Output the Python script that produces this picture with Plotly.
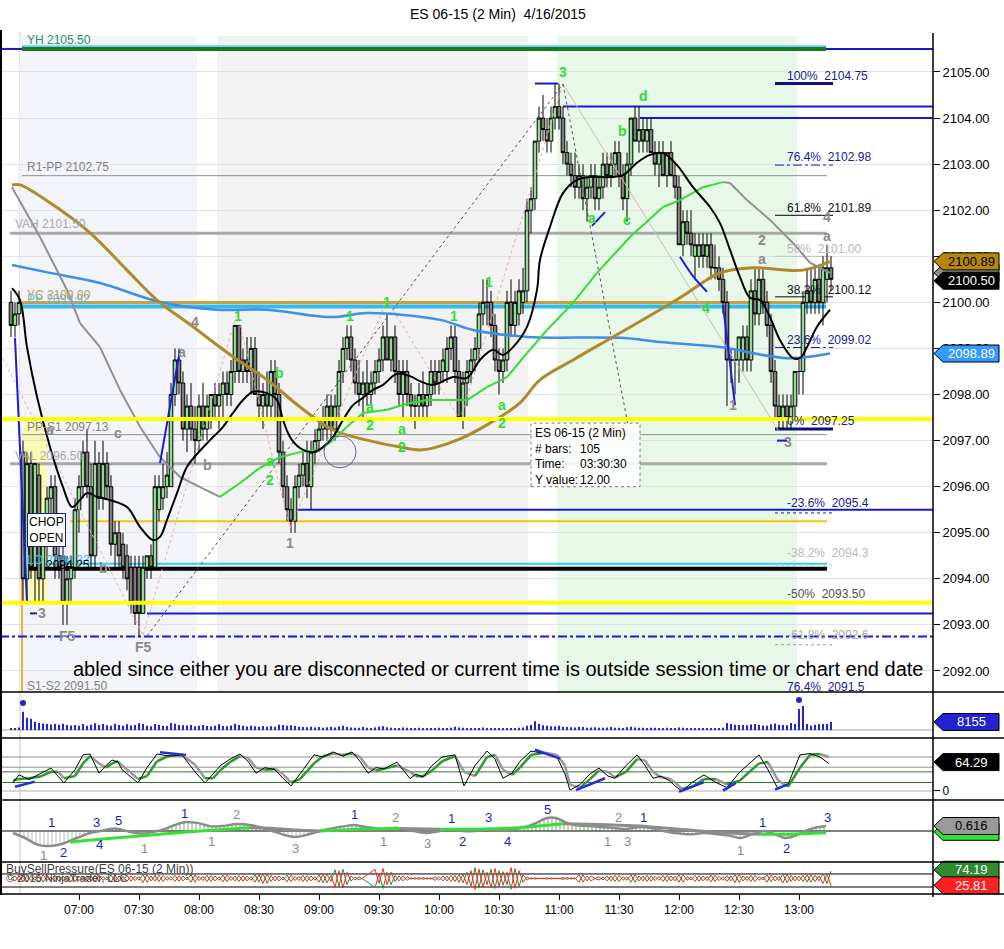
import plotly.graph_objects as go
from datetime import datetime, timedelta

DAY = "2015-04-16"
FONT = "Arial, Liberation Sans, sans-serif"

# ---------------- price bars: 2-minute bars from 06:26 ----------------
first_bar = datetime(2015, 4, 16, 6, 26)
bar_minutes = 2

opens = [
    2100.0, 2099.5, 2099.75, 2096.75, 2094.0, 2096.5, 2094.25, 2096.25, 2094.0, 2094.75,
    2095.75, 2096.0, 2094.5, 2094.5, 2093.5, 2094.0, 2094.25, 2095.5, 2096.0, 2096.75,
    2096.0, 2094.5, 2096.5, 2095.75, 2096.5, 2096.0, 2094.75, 2095.0, 2094.75, 2094.5,
    2094.25, 2094.25, 2094.25, 2093.25, 2094.25, 2094.5, 2094.25, 2095.5, 2095.75, 2096.0,
    2096.0, 2098.0, 2098.75, 2098.25, 2097.25, 2097.75, 2097.25, 2097.0, 2097.75, 2097.25,
    2097.5, 2098.0, 2097.75, 2098.0, 2098.25, 2098.0, 2098.5, 2099.5, 2098.5, 2098.75,
    2098.5, 2099.0, 2098.0, 2097.75, 2098.0, 2097.75, 2098.5, 2098.0, 2096.75, 2096.0,
    2095.5, 2095.25, 2096.0, 2096.25, 2096.5, 2096.0, 2096.75, 2097.0, 2097.25, 2097.25,
    2097.75, 2097.25, 2097.75, 2098.5, 2099.0, 2099.25, 2098.75, 2098.25, 2098.0, 2098.25,
    2098.0, 2098.25, 2098.5, 2098.75, 2099.25, 2098.75, 2099.25, 2098.5, 2098.0, 2098.5,
    2098.0, 2097.75, 2097.75, 2098.0, 2097.75, 2098.0, 2098.5, 2098.25, 2098.5, 2098.5,
    2099.0, 2099.25, 2098.5, 2097.5, 2098.25, 2098.5, 2098.75, 2099.0, 2099.75, 2100.0,
    2100.0, 2099.5, 2098.75, 2098.5, 2098.75, 2100.0, 2099.5, 2099.75, 2100.0, 2100.25,
    2102.0, 2102.25, 2103.5, 2104.0, 2103.75, 2103.5, 2104.0, 2104.25, 2104.0, 2103.25,
    2103.0, 2102.75, 2102.5, 2102.75, 2102.25, 2102.5, 2102.75, 2102.25, 2102.5, 2103.0,
    2102.75, 2103.0, 2103.25, 2102.75, 2102.25, 2103.0, 2104.0, 2103.5, 2103.75, 2103.5,
    2103.75, 2103.25, 2103.0, 2103.25, 2102.75, 2103.25, 2102.75, 2102.5, 2101.25, 2101.75,
    2101.5, 2101.0, 2101.0, 2101.25, 2101.0, 2101.25, 2100.75, 2100.75, 2100.5, 2100.0,
    2098.75, 2098.75, 2098.75, 2098.75, 2099.25, 2098.75, 2100.25, 2099.75, 2100.5, 2100.0,
    2099.5, 2098.5, 2097.75, 2097.5, 2097.75, 2097.5, 2097.75, 2098.5, 2098.5, 2100.0,
    2100.25, 2100.0, 2100.5, 2100.0, 2100.5, 2100.75,
]
highs = [
    2100.25, 2100.0, 2100.25, 2097.0, 2096.75, 2096.75, 2096.5, 2096.5, 2095.25, 2096.0,
    2096.25, 2096.25, 2095.25, 2094.75, 2094.5, 2094.5, 2095.75, 2096.25, 2097.0, 2097.25,
    2096.5, 2097.0, 2096.75, 2097.0, 2096.75, 2096.25, 2095.25, 2095.25, 2095.0, 2094.75,
    2094.5, 2094.5, 2094.5, 2094.5, 2094.5, 2094.75, 2096.25, 2096.25, 2096.5, 2096.75,
    2098.25, 2099.0, 2099.0, 2098.5, 2098.0, 2098.25, 2097.75, 2098.0, 2098.25, 2098.0,
    2098.0, 2098.25, 2098.25, 2098.5, 2098.5, 2098.75, 2099.5, 2099.5, 2099.0, 2099.25,
    2099.25, 2099.25, 2098.5, 2098.25, 2098.5, 2098.75, 2098.75, 2098.25, 2097.0, 2096.25,
    2095.75, 2096.25, 2096.5, 2096.75, 2097.0, 2097.0, 2097.25, 2097.5, 2097.75, 2098.0,
    2098.0, 2098.0, 2098.75, 2099.25, 2099.5, 2099.5, 2099.0, 2098.75, 2098.5, 2098.75,
    2098.5, 2098.75, 2099.0, 2099.5, 2099.75, 2099.25, 2099.5, 2098.75, 2098.75, 2098.75,
    2098.25, 2098.0, 2098.25, 2098.5, 2098.25, 2098.75, 2098.75, 2098.75, 2099.0, 2099.25,
    2099.5, 2099.5, 2098.75, 2098.5, 2098.75, 2099.0, 2099.25, 2100.0, 2100.5, 2100.5,
    2100.25, 2099.75, 2099.0, 2099.0, 2100.25, 2100.5, 2100.25, 2100.5, 2100.75, 2102.25,
    2102.5, 2103.5, 2104.25, 2104.5, 2104.0, 2104.25, 2104.75, 2104.75, 2104.25, 2103.5,
    2103.25, 2103.25, 2103.0, 2103.0, 2102.75, 2103.0, 2103.0, 2102.75, 2103.25, 2103.25,
    2103.25, 2103.5, 2103.5, 2103.0, 2103.25, 2104.0, 2104.25, 2104.25, 2104.0, 2104.0,
    2104.0, 2103.5, 2103.5, 2103.5, 2103.25, 2103.5, 2103.0, 2102.75, 2102.0, 2102.0,
    2102.0, 2101.5, 2101.5, 2101.5, 2101.5, 2101.5, 2101.25, 2101.0, 2100.75, 2100.25,
    2099.0, 2099.0, 2099.25, 2099.5, 2099.5, 2100.5, 2100.75, 2100.75, 2100.75, 2100.25,
    2099.75, 2098.75, 2098.0, 2098.0, 2098.0, 2098.0, 2098.5, 2098.75, 2100.25, 2100.75,
    2100.75, 2100.75, 2100.75, 2101.0, 2101.25, 2101.0,
]
lows = [
    2099.25, 2099.25, 2099.5, 2093.5, 2093.5, 2094.0, 2093.5, 2093.5, 2093.5, 2094.25,
    2095.0, 2094.0, 2094.0, 2093.0, 2093.0, 2093.5, 2094.0, 2095.0, 2095.75, 2095.75,
    2094.25, 2094.25, 2095.5, 2095.5, 2095.75, 2094.5, 2094.25, 2094.25, 2094.0, 2093.75,
    2093.25, 2093.0, 2092.75, 2093.25, 2094.0, 2094.0, 2094.25, 2095.25, 2095.5, 2095.75,
    2096.0, 2097.75, 2098.0, 2097.0, 2096.75, 2097.0, 2096.5, 2096.75, 2097.0, 2097.0,
    2097.25, 2097.5, 2097.25, 2097.5, 2097.75, 2097.75, 2098.25, 2098.25, 2098.25, 2098.25,
    2098.0, 2098.0, 2097.5, 2097.25, 2097.5, 2097.5, 2097.5, 2096.5, 2095.75, 2095.25,
    2095.0, 2095.0, 2095.75, 2096.0, 2095.75, 2095.5, 2096.5, 2096.75, 2097.0, 2097.0,
    2097.0, 2097.0, 2097.5, 2098.25, 2098.75, 2098.5, 2098.0, 2097.75, 2097.5, 2097.75,
    2097.75, 2098.0, 2098.25, 2098.5, 2098.75, 2098.5, 2098.25, 2097.75, 2097.5, 2097.75,
    2097.5, 2097.25, 2097.5, 2097.5, 2097.5, 2097.75, 2098.0, 2098.0, 2098.25, 2098.25,
    2098.75, 2098.25, 2097.5, 2097.25, 2097.75, 2098.25, 2098.5, 2098.75, 2099.5, 2099.5,
    2099.25, 2098.5, 2098.0, 2098.25, 2098.5, 2099.25, 2099.25, 2099.5, 2099.75, 2100.0,
    2101.5, 2102.0, 2103.25, 2103.5, 2103.25, 2103.25, 2103.75, 2103.75, 2103.0, 2102.75,
    2102.5, 2102.25, 2102.25, 2102.0, 2101.75, 2102.25, 2102.0, 2102.0, 2102.25, 2102.5,
    2102.5, 2102.75, 2102.5, 2102.0, 2101.75, 2102.75, 2103.5, 2103.25, 2103.25, 2103.25,
    2103.25, 2102.75, 2102.5, 2102.75, 2102.5, 2102.75, 2102.25, 2101.25, 2101.0, 2101.25,
    2101.0, 2100.5, 2100.75, 2100.75, 2100.75, 2100.5, 2100.5, 2100.25, 2099.75, 2097.75,
    2098.25, 2098.0, 2098.25, 2098.5, 2098.5, 2098.5, 2099.5, 2099.5, 2099.75, 2099.25,
    2098.25, 2097.5, 2097.25, 2097.25, 2097.25, 2097.25, 2097.5, 2098.0, 2098.0, 2099.75,
    2099.75, 2099.75, 2099.75, 2099.5, 2100.0, 2100.25,
]
closes = [
    2099.5, 2099.75, 2100.0, 2094.0, 2096.5, 2094.25, 2096.5, 2094.0, 2094.75, 2095.75,
    2096.0, 2094.5, 2094.25, 2093.5, 2094.0, 2094.25, 2095.5, 2096.0, 2096.75, 2096.0,
    2094.5, 2096.5, 2095.75, 2096.5, 2096.0, 2094.75, 2095.0, 2094.5, 2094.25, 2094.0,
    2093.5, 2093.25, 2093.25, 2094.25, 2094.5, 2094.25, 2096.0, 2096.0, 2096.0, 2096.25,
    2098.0, 2098.75, 2098.25, 2097.25, 2097.75, 2097.25, 2097.0, 2097.75, 2097.25, 2097.75,
    2098.0, 2097.75, 2098.0, 2098.25, 2098.0, 2098.5, 2099.5, 2098.5, 2098.75, 2098.5,
    2099.0, 2098.0, 2097.75, 2098.0, 2097.75, 2098.5, 2098.0, 2096.75, 2096.0, 2095.5,
    2095.25, 2096.0, 2096.25, 2096.5, 2096.0, 2096.75, 2097.0, 2097.25, 2097.5, 2097.75,
    2097.25, 2097.75, 2098.5, 2099.0, 2099.25, 2098.75, 2098.25, 2098.0, 2098.25, 2098.0,
    2098.25, 2098.5, 2098.75, 2099.25, 2098.75, 2099.25, 2098.5, 2098.0, 2098.5, 2098.0,
    2097.75, 2097.75, 2098.0, 2097.75, 2098.0, 2098.5, 2098.25, 2098.5, 2098.75, 2099.0,
    2099.25, 2098.5, 2097.5, 2098.25, 2098.5, 2098.75, 2099.0, 2099.75, 2100.0, 2100.0,
    2099.5, 2098.75, 2098.5, 2098.75, 2100.0, 2099.5, 2100.0, 2100.25, 2100.25, 2102.0,
    2102.25, 2103.5, 2104.0, 2103.75, 2103.5, 2104.0, 2104.25, 2104.0, 2103.25, 2103.0,
    2102.75, 2102.5, 2102.75, 2102.25, 2102.5, 2102.75, 2102.25, 2102.5, 2103.0, 2102.75,
    2103.0, 2103.25, 2102.75, 2102.25, 2103.0, 2104.0, 2103.5, 2103.75, 2103.5, 2103.75,
    2103.25, 2103.0, 2103.25, 2102.75, 2103.25, 2102.75, 2102.5, 2101.25, 2101.75, 2101.5,
    2101.25, 2101.25, 2101.25, 2101.0, 2101.25, 2100.75, 2100.75, 2100.5, 2100.0, 2098.75,
    2098.75, 2098.75, 2099.25, 2099.25, 2098.75, 2100.25, 2099.75, 2100.5, 2100.0, 2099.5,
    2098.5, 2097.75, 2097.5, 2097.75, 2097.5, 2097.75, 2098.5, 2098.5, 2100.0, 2100.25,
    2100.0, 2100.5, 2100.0, 2100.75, 2100.75, 2100.5,
]
volumes = [
    2000, 1800, 2500, 18500, 12500, 11400, 8300, 7200, 6500, 6000,
    5600, 6200, 5400, 6400, 5000, 4600, 5200, 4400, 6000, 4200,
    5400, 6800, 5000, 6000, 4800, 4400, 6400, 5000, 4400, 5800,
    4600, 5200, 6800, 6000, 4200, 3800, 6200, 5000, 4400, 4000,
    7000, 6400, 5200, 4800, 4600, 5000, 3800, 4400, 5200, 4000,
    3600, 4200, 5800, 4000, 3800, 4600, 6400, 5000, 4200, 3600,
    4400, 3800, 3400, 4000, 3200, 3800, 3400, 5400, 5000, 4400,
    4800, 4000, 3400, 3000, 2800, 3200, 2600, 3000, 2400, 2800,
    3400, 2600, 3600, 4200, 3000, 2600, 2400, 2200, 3000, 2400,
    2000, 2600, 3200, 3800, 2800, 2400, 2000, 1800, 2600, 2200,
    1800, 1600, 2400, 2000, 1400, 1800, 1600, 2200, 1800, 2000,
    2400, 3400, 2600, 2200, 1800, 1600, 1400, 2000, 2600, 1800,
    1600, 1400, 1200, 1800, 1600, 2000, 1800, 2200, 2600, 4200,
    5200, 9000, 6000, 4800, 4200, 3800, 3600, 4200, 3400, 3000,
    2800, 2600, 3200, 3000, 2400, 2600, 2800, 2200, 2400, 2600,
    3000, 2400, 2200, 2000, 2800, 3400, 2600, 2400, 2200, 2000,
    2400, 2200, 1800, 2000, 2400, 1600, 2000, 2600, 2200, 1800,
    1600, 1400, 1800, 1600, 1400, 1800, 2000, 1600, 2400, 7200,
    6000, 5400, 5000, 5200, 4800, 5600, 6200, 5000, 4600, 4400,
    5800, 6600, 5400, 5000, 4800, 7000, 6000, 21500, 24500, 6000,
    4200, 5400, 5800, 6000, 6200, 8155,
]
buy_pressure = [
    50, 58, 42, 60, 40, 57, 44, 62, 38, 56, 45, 60, 41, 58, 43, 61, 40, 57, 44, 59,
    42, 60, 40, 56, 45, 62, 39, 58, 43, 60, 41, 57, 44, 63, 38, 58, 42, 60, 40, 56,
    44, 60, 41, 58, 45, 62, 38, 57, 43, 60, 40, 58, 44, 61, 39, 57, 42, 60, 41, 58,
    44, 62, 38, 66, 35, 60, 42, 58, 45, 61, 39, 57, 43, 60, 40, 58, 44, 62, 36, 64,
    40, 78, 25, 80, 30, 58, 45, 55, 48, 40, 30, 20, 65, 18, 70, 30, 60, 42, 58, 44,
    52, 48, 53, 47, 52, 48, 56, 44, 58, 42, 60, 40, 62, 36, 70, 25, 85, 20, 78, 30,
    80, 18, 75, 28, 70, 15, 82, 25, 62, 45, 52, 48, 51, 49, 52, 48, 51, 49, 53, 47,
    52, 48, 62, 38, 58, 42, 50, 55, 45, 58, 42, 60, 40, 56, 44, 62, 38, 58, 42, 60,
    41, 57, 44, 60, 40, 58, 42, 62, 38, 56, 45, 60, 41, 58, 43, 61, 40, 57, 44, 59,
    42, 63, 37, 58, 43, 60, 40, 56, 45, 62, 39, 58, 43, 64, 36, 60, 42, 58, 40, 62,
    38, 60, 42, 66, 34, 74.19,
]

# ---------------- moving averages ----------------
ma_fast_t = ["06:26:30", "06:30:30", "06:34:00", "06:39:00", "06:45:30", "06:52:00", "06:56:30", "07:00:30",
             "07:04:00", "07:09:00", "07:15:30", "07:24:00", "07:30:30", "07:37:00", "07:40:30", "07:44:00",
             "07:49:00", "07:54:00", "08:00:30", "08:05:30", "08:12:00", "08:17:00", "08:22:00", "08:27:00",
             "08:34:00", "08:39:00", "08:42:00", "08:45:30", "08:50:30", "08:57:00", "09:02:00", "09:07:00",
             "09:12:00", "09:17:00", "09:22:00", "09:27:00", "09:32:00", "09:39:00", "09:45:30", "09:50:30",
             "09:57:00", "10:07:00", "10:14:00", "10:20:30", "10:27:00", "10:32:00", "10:37:00", "10:44:00",
             "10:49:00", "10:50:30", "10:55:30", "11:02:00", "11:09:00", "11:15:30", "11:25:30", "11:32:00",
             "11:39:00", "11:45:30", "11:52:00", "11:59:00", "12:07:00", "12:15:30", "12:20:30", "12:25:30",
             "12:30:30", "12:35:30", "12:40:30", "12:45:30", "12:50:30", "12:57:00", "13:00:30", "13:04:00",
             "13:09:00", "13:15:30"]
ma_fast_v = [2100.31, 2100.05, 2099.03, 2097.95, 2096.86, 2095.99, 2095.56, 2095.71,
             2095.86, 2095.78, 2095.71, 2095.56, 2095.13, 2094.84, 2094.91, 2095.28,
             2095.86, 2096.43, 2096.78, 2097.01, 2097.30, 2097.60, 2097.88, 2098.06,
             2098.03, 2097.88, 2097.45, 2097.08, 2096.84, 2096.75, 2096.86, 2097.08,
             2097.45, 2097.77, 2097.93, 2098.10, 2098.21, 2098.45, 2098.40, 2098.29,
             2098.21, 2098.38, 2098.36, 2098.75, 2098.97, 2098.86, 2099.03, 2099.47,
             2100.27, 2100.92, 2101.64, 2102.37, 2102.66, 2102.72, 2102.72, 2102.76,
             2103.03, 2103.20, 2103.24, 2102.98, 2102.50, 2102.07, 2101.72, 2101.14,
             2100.55, 2100.10, 2100.05, 2099.68, 2099.18, 2098.79, 2098.79, 2099.03,
             2099.47, 2099.84]

ma_mid_t = ["06:26:30", "06:40:30", "06:54:00", "07:00:30", "07:10:30", "07:20:30", "07:30:30", "07:40:30",
            "07:50:30", "08:00:30", "08:10:30", "08:20:30", "08:30:30", "08:40:30", "08:50:30", "09:00:30",
            "09:07:00", "09:14:00", "09:22:00", "09:34:00", "09:44:00", "09:54:00", "10:14:00", "10:24:00",
            "10:34:00", "10:44:00", "10:54:00", "11:07:00", "11:19:00", "11:35:30", "11:52:00", "12:00:30",
            "12:12:00", "12:22:00", "12:25:30", "12:34:00", "12:45:30", "12:57:00", "13:05:30", "13:15:30"]
ma_mid_v = [2102.50, 2101.42, 2100.27, 2099.55, 2099.03, 2098.10, 2097.30, 2096.64,
            2096.21, 2095.99, 2095.78, 2096.08, 2096.41, 2096.64, 2096.75, 2096.80,
            2097.01, 2097.30, 2097.60, 2097.67, 2097.80, 2097.88, 2097.88, 2098.16,
            2098.38, 2098.90, 2099.40, 2099.99, 2100.64, 2101.42, 2102.07, 2102.22,
            2102.50, 2102.61, 2102.59, 2102.22, 2101.79, 2101.29, 2100.86, 2100.64]

ma_brown_t = ["06:26:30", "06:30:30", "06:45:30", "07:05:30", "07:24:00", "07:39:00", "07:57:00", "08:17:00",
              "08:34:00", "08:50:30", "09:07:00", "09:24:00", "09:40:30", "09:52:00", "10:09:00", "10:25:30",
              "10:40:30", "10:50:30", "11:07:00", "11:27:00", "11:50:30", "12:04:00", "12:14:00", "12:20:30",
              "12:37:00", "13:02:00", "13:15:30"]
ma_brown_v = [2102.55, 2102.55, 2102.16, 2101.51, 2100.70, 2100.05, 2099.47, 2098.82,
              2098.32, 2097.73, 2097.23, 2097.01, 2096.86, 2096.80, 2097.01, 2097.38,
              2097.82, 2098.32, 2098.75, 2099.25, 2099.84, 2100.20, 2100.49, 2100.64,
              2100.75, 2100.70, 2100.89]

ma_blue_t = ["06:26:30", "06:45:30", "07:10:30", "07:40:30", "08:09:00", "08:34:00", "09:07:00", "09:24:00",
             "10:00:30", "10:17:00", "10:44:00", "11:30:30", "11:50:30", "12:20:30", "12:54:00", "13:15:30"]
ma_blue_v = [2100.81, 2100.64, 2100.42, 2100.01, 2099.84, 2099.84, 2099.68, 2099.77,
             2099.62, 2099.40, 2099.25, 2099.23, 2099.14, 2099.03, 2098.79, 2098.89]

# ---------------- stochastics (read) ----------------
stoch_t = ["06:27:00", "06:30:00", "06:35:00", "06:40:30", "06:46:00", "06:49:30", "06:52:30", "06:58:00",
           "07:02:00", "07:05:30", "07:10:00", "07:13:30", "07:16:30", "07:19:30", "07:21:30", "07:25:30",
           "07:29:30", "07:34:00", "07:39:00", "07:45:30", "07:51:30", "07:58:00", "08:03:00", "08:07:00",
           "08:11:00", "08:15:30", "08:20:30", "08:24:30", "08:28:30", "08:33:00", "08:38:00", "08:42:00",
           "08:46:00", "08:50:30", "08:57:30", "09:02:00", "09:07:00", "09:12:00", "09:16:30", "09:20:30",
           "09:24:30", "09:28:30", "09:32:30", "09:39:00", "09:45:30", "09:48:30", "09:52:00", "09:56:30",
           "10:01:30", "10:08:00", "10:12:30", "10:18:00", "10:24:00", "10:28:00", "10:32:00", "10:36:30",
           "10:40:30", "10:46:00", "10:53:00", "10:59:00", "11:03:00", "11:05:30", "11:10:30", "11:15:30",
           "11:20:00", "11:24:30", "11:28:00", "11:33:30", "11:39:00", "11:43:00", "11:47:00", "11:51:00",
           "11:55:00", "11:58:30", "12:01:30", "12:06:30", "12:12:30", "12:18:30", "12:24:00", "12:30:30",
           "12:40:00", "12:44:30", "12:49:30", "12:54:30", "13:00:30", "13:05:30", "13:10:30", "13:15:00"]
stoch_k = [19, 38, 27, 40, 54, 35, 19, 50, 85, 87, 42, 60, 73, 68, 50, 35, 19, 55, 87, 82,
           85, 45, 19, 40, 61, 75, 87, 70, 42, 55, 50, 30, 12, 40, 85, 80, 92, 82, 92, 70,
           42, 55, 52, 68, 29, 40, 32, 60, 80, 85, 12, 60, 94, 75, 30, 42, 70, 94, 88, 80,
           40, 2, 15, 40, 54, 35, 30, 60, 85, 60, 30, 35, 25, 10, 0, 20, 38, 20, 8, 45,
           85, 50, 5, 15, 85, 88, 80, 64.29]
stoch_d = [25, 28, 30, 34, 45, 45, 30, 35, 65, 82, 65, 55, 65, 70, 60, 45, 28, 35, 70, 84,
           84, 62, 30, 30, 50, 68, 82, 78, 55, 50, 52, 40, 20, 28, 65, 82, 88, 85, 88, 80,
           55, 48, 52, 60, 45, 35, 35, 48, 70, 82, 45, 35, 80, 85, 50, 38, 55, 85, 90, 85,
           60, 15, 8, 28, 48, 45, 32, 45, 75, 72, 45, 32, 30, 18, 5, 10, 28, 28, 15, 25,
           65, 68, 25, 10, 55, 85, 87, 80]
stoch_levels = [80, 56, 45, 20, 0]
stoch_level_colors = ["#909090", "#909090", "#2a7a2a", "#2a7a2a", "#b0b0b0"]
stoch_blue_t0 = ["06:28:00", "07:40:30", "10:48:00", "11:08:30", "12:00:00", "12:22:00", "12:48:00"]
stoch_blue_v0 = [10, 91, 97, 2, -2, 1, 3]
stoch_blue_t1 = ["06:38:00", "07:53:30", "11:00:30", "11:23:00", "12:12:30", "12:28:30", "12:54:30"]
stoch_blue_v1 = [22, 85, 76, 30, 21, 19, 16]

# ---------------- MACD-like oscillator (read) ----------------
macd_t = ["06:27:00", "06:33:00", "06:39:30", "06:45:30", "06:52:30", "06:59:00", "07:05:30", "07:10:30",
          "07:18:00", "07:25:30", "07:32:00", "07:37:30", "07:43:00", "07:48:00", "07:53:30", "07:59:00",
          "08:05:30", "08:11:30", "08:18:30", "08:25:30", "08:31:30", "08:38:00", "08:43:00", "08:48:00",
          "08:53:30", "09:00:30", "09:08:00", "09:13:00", "09:17:30", "09:23:00", "09:32:30", "09:38:30",
          "09:45:30", "09:53:00", "10:00:30", "10:06:00", "10:12:00", "10:18:00", "10:24:00", "10:30:30",
          "10:38:00", "10:44:30", "10:49:30", "10:54:00", "10:58:30", "11:03:00", "11:08:00", "11:15:00",
          "11:20:30", "11:26:30", "11:33:00", "11:40:30", "11:45:30", "11:50:30", "11:58:00", "12:05:30",
          "12:12:30", "12:19:30", "12:25:30", "12:31:00", "12:36:30", "12:42:30", "12:48:00", "12:53:00",
          "12:58:00", "13:03:00", "13:08:00", "13:13:30"]
macd_v = [-0.25, -0.86, -1.7, -1.85, -1.5, -0.86, -0.25, 0.0,
          0.3, -0.1, -0.3, -0.1, 0.25, 0.75, 1.1, 1.0,
          0.6, 0.6, 0.85, 0.75, 0.4, -0.1, -0.5, -0.75,
          -0.5, 0.0, 0.4, 0.6, 0.75, 0.5, 0.25, 0.4,
          0.1, -0.25, 0.0, 0.25, 0.0, 0.0, 0.25, 0.1,
          0.25, 0.6, 1.1, 1.6, 1.6, 1.1, 0.75, 0.6,
          0.5, 0.4, 0.25, 0.5, 0.4, 0.1, -0.25, -0.4,
          -0.25, -0.4, -0.6, -0.86, -0.4, 0.0, -0.4, -0.86,
          -0.6, 0.0, 0.4, 0.616]
signal_t = ["06:55:30", "07:10:30", "07:25:30", "07:40:30", "07:55:30", "08:10:30", "08:25:30", "08:35:30",
            "08:50:30", "09:00:30", "09:20:30", "09:40:30", "10:00:30", "10:20:30", "10:40:30", "11:02:00",
            "11:20:30", "11:40:30", "12:00:30", "12:20:30", "12:40:30", "12:55:30", "13:13:30"]
signal_v = [-1.35, -1.0, -0.7, -0.4, -0.1, 0.15, 0.4, 0.35, 0.1, 0.0, 0.2, 0.3, 0.2, 0.2, 0.4, 0.9,
            0.8, 0.6, 0.2, -0.2, -0.4, -0.4, -0.2]
macd_blue_labels = [("1", "06:46:00", 1.1), ("2", "06:52:00", -2.7), ("3", "07:08:30", 1.1), ("5", "07:19:30", 1.23),
                    ("4", "07:10:00", -1.72), ("1", "07:52:30", 2.1), ("1", "09:17:30", 2.0), ("1", "10:06:00", 1.5),
                    ("3", "10:24:30", 1.7), ("2", "10:11:30", -1.35), ("4", "10:34:00", -1.35), ("5", "10:54:00", 2.7),
                    ("1", "11:42:00", 1.7), ("1", "12:41:30", 1.0), ("2", "12:53:30", -2.2), ("3", "13:14:00", 1.7)]
macd_gray_labels = [("1", "06:42:00", -2.95), ("1", "07:32:30", -2.1), ("2", "08:18:30", 2.0), ("1", "08:06:00", -1.35),
                    ("3", "08:48:00", -2.1), ("2", "09:38:00", 1.7), ("1", "09:32:00", -1.35), ("3", "09:54:00", -1.5),
                    ("2", "11:29:30", 1.6), ("1", "11:24:00", -1.35), ("3", "11:34:00", -1.35), ("1", "12:30:30", -2.35)]

# ---------------- horizontal levels ----------------
# (price, start, end, colour, width, dash)
levels = [
    (2105.56, "06:31:30", "13:13:30", "#66ccff", 2, "solid"),
    (2105.50, "06:31:30", "13:13:30", "#1a7a1a", 4, "solid"),
    (2105.50, "06:20:30", "06:31:30", "#1818c8", 2, "solid"),
    (2105.50, "13:13:30", "14:07:00", "#1818c8", 2, "solid"),
    (2104.75, "10:48:00", "10:59:30", "#1818c8", 2, "solid"),
    (2104.25, "11:02:00", "14:07:00", "#1818d8", 2, "solid"),
    (2104.00, "11:40:30", "14:07:00", "#1818d8", 2, "solid"),
    (2102.75, "06:31:30", "13:14:00", "#909090", 1, "solid"),
    (2101.50, "06:25:30", "13:14:00", "#a8a8a8", 3, "solid"),
    (2100.00, "06:31:30", "13:13:30", "#c8a040", 3, "solid"),
    (2099.91, "06:31:30", "13:13:30", "#33bbee", 4, "solid"),
    (2097.13, "06:31:30", "13:14:00", "#909090", 1, "solid"),
    (2096.50, "06:25:30", "13:14:00", "#a8a8a8", 3, "solid"),
    (2095.50, "08:47:00", "14:07:00", "#1818d8", 2, "solid"),
    (2095.25, "06:55:30", "13:14:00", "#f0c800", 2, "solid"),
    (2094.33, "06:31:30", "13:14:00", "#33ccff", 2, "solid"),
    (2094.22, "06:31:30", "13:14:00", "#000000", 4, "solid"),
    (2093.25, "07:34:00", "14:07:00", "#1818d8", 2, "solid"),
    (2092.75, "06:20:30", "14:07:00", "#1818d8", 2, "dashdot"),
    (2093.25, "06:35:30", "06:39:00", "#1818d8", 2, "solid"),
    (2097.00, "12:49:00", "12:54:00", "#1818d8", 2, "solid"),
]
yellow_levels = [2097.47, 2093.48]

fib_start, fib_end = "12:48:00", "13:17:00"
fib_prices = [2104.75, 2102.98, 2101.89, 2101.00, 2100.12, 2099.02, 2097.25, 2095.43, 2094.30, 2092.57]
fib_styles = [("#10107a", 3, "solid"), ("#1a1a9a", 1, "dashdot"), ("#000000", 1, "solid"), ("#c0c0c0", 1, "solid"),
              ("#000000", 1, "solid"), ("#1a1a9a", 1, "dashdot"), ("#10107a", 3, "solid"), ("#1a1a9a", 1, "dot"),
              ("#c0c0c0", 1, "dot"), ("#a0a0a0", 1, "dot")]
fib_labels = [("100%  2104.75", 2104.91, "#1a1a8c"), ("76.4%  2102.98", 2103.16, "#1a1a8c"),
              ("61.8%  2101.89", 2102.05, "#111111"), ("50%  2101.00", 2101.16, "#b8b8b8"),
              ("38.2%  2100.12", 2100.27, "#111111"), ("23.6%  2099.02", 2099.18, "#1a1a8c"),
              ("0%  2097.25", 2097.43, "#1a1a8c"), ("-23.6%  2095.4", 2095.65, "#1a1a8c"),
              ("-38.2%  2094.3", 2094.56, "#b8b8b8"), ("-50%  2093.50", 2093.67, "#505050"),
              ("-61.8%  2092.6", 2092.78, "#a8a8a8"), ("76.4%  2091.5", 2091.65, "#1a1a8c")]
fib_label_time = "12:53:00"

level_labels = [("YH 2105.50", "06:33:00", 2105.69, "#2f8f6f"), ("R1-PP 2102.75", "06:33:00", 2102.94, "#808080"),
                ("VAH 2101.50", "06:27:00", 2101.70, "#a8a8a8"), ("PP 2099.92", "06:33:00", 2100.08, "#55bbee"),
                ("YC 2100.00", "06:33:00", 2100.16, "#c8a040"), ("PP-S1 2097.13", "06:33:00", 2097.30, "#808080"),
                ("VAL 2096.50", "06:27:00", 2096.67, "#a8a8a8"), ("LO 2094.33", "06:33:00", 2094.40, "#33bbee"),
                ("2094.25", "06:42:30", 2094.30, "#000000"), ("S1-S2 2091.50", "06:33:00", 2091.68, "#808080")]

green_labels = [("1", "08:19:30", 2099.70), ("b", "08:40:00", 2098.47), ("a", "08:35:30", 2096.56), ("2", "08:35:30", 2096.15),
                ("1", "09:15:30", 2099.70), ("1", "09:34:00", 2100.01), ("a", "09:25:30", 2097.73), ("2", "09:25:30", 2097.34),
                ("a", "09:41:30", 2097.25), ("2", "09:41:30", 2096.86), ("1", "10:07:30", 2099.70), ("1", "10:25:00", 2100.44),
                ("a", "10:31:30", 2097.77), ("2", "10:31:30", 2097.38), ("3", "11:02:00", 2105.00), ("a", "11:16:30", 2101.83),
                ("b", "11:31:30", 2103.72), ("c", "11:34:00", 2101.79), ("d", "11:42:00", 2104.48), ("4", "12:13:30", 2099.88)]
gray_labels = [("4", "07:58:00", 2099.57), ("a", "07:51:30", 2098.92), ("a", "06:45:30", 2097.23), ("c", "07:19:30", 2097.17),
               ("b", "08:04:00", 2096.47), ("b", "07:12:00", 2094.24), ("F5", "06:54:00", 2092.76), ("F5", "07:32:00", 2092.52),
               ("3", "06:41:30", 2093.26), ("1", "08:45:30", 2094.78), ("1", "12:27:00", 2097.77), ("2", "12:41:30", 2101.35),
               ("a", "12:41:30", 2100.94), ("4", "13:14:00", 2101.85), ("a", "13:14:00", 2101.44), ("3", "12:54:30", 2096.97)]

# swing lines (blue) and dotted zigzags: (t0, p0, t1, p1)
swing_lines = [("06:28:00", 2099.23, "06:34:00", 2093.48), ("07:40:30", 2096.51, "07:50:30", 2098.97),
               ("11:16:30", 2101.66, "11:23:00", 2101.96), ("12:22:00", 2099.94, "12:28:00", 2097.77)]
swing_curve_t = ["12:00:30", "12:07:00", "12:14:00"]
swing_curve_p = [2100.99, 2100.57, 2100.23]
zigzag_pink = [("06:20:30", 2098.90, "07:32:00", 2092.78), ("07:32:00", 2092.78, "08:19:00", 2099.77),
               ("08:19:00", 2099.77, "08:45:30", 2095.10), ("08:45:30", 2095.10, "09:34:00", 2100.05),
               ("09:34:00", 2100.05, "10:10:30", 2097.45), ("10:10:30", 2097.45, "11:02:00", 2104.74)]
zigzag_gray = [("11:02:00", 2104.74, "12:49:30", 2097.23)]
zigzag_black = [("07:34:00", 2092.76, "11:02:00", 2104.74), ("11:02:00", 2104.74, "11:34:30", 2097.34)]

# ---------------- geometry of the panels ----------------
H = 949.0
X_RANGE = [f"{DAY} 06:21:30", f"{DAY} 14:07:00"]
X_DOMAIN = [2 / 1004, 933 / 1004]
dom_main = [1 - 692 / H, 1 - 32 / H]
rng_main = [2091.544, 2105.868]
dom_vol = [1 - 738 / H, 1 - 692 / H]
rng_vol = [-8200, 38800]
dom_sto = [1 - 800 / H, 1 - 738 / H]
rng_sto = [-21.2, 124.7]
dom_macd = [1 - 862 / H, 1 - 800 / H]
rng_macd = [-3.81, 3.81]
dom_bsp = [1 - 894 / H, 1 - 862 / H]
rng_bsp = [0, 103]


def T(hms):
    return f"{DAY} {hms}"


def to_paper(v, dom, rng):
    return dom[0] + (v - rng[0]) / (rng[1] - rng[0]) * (dom[1] - dom[0])


bar_times = [first_bar + timedelta(minutes=bar_minutes * i) for i in range(len(opens))]

fig = go.Figure()
shapes = []
ann = []

# background sessions
for t0, t1, col in [("06:30:30", "07:59:00", "#f3f4f9"), ("08:09:00", "10:44:30", "#f2f2f2"),
                    ("10:59:00", "12:59:00", "#e8f8e8")]:
    shapes.append(dict(type="rect", xref="x", yref="y", x0=T(t0), x1=T(t1), y0=rng_main[0], y1=2105.78,
                       fillcolor=col, line=dict(width=0), layer="below"))
# chop zone
shapes.append(dict(type="rect", xref="x", yref="y", x0=T("06:32:00"), x1=T("06:44:00"), y0=2093.48, y1=2097.38,
                   fillcolor="rgba(255,255,120,0.55)", line=dict(width=0), layer="below"))
# session separator & orange vertical
shapes.append(dict(type="line", xref="x", yref="paper", x0=T("06:30:30"), x1=T("06:30:30"), y0=dom_bsp[0],
                   y1=dom_main[1], line=dict(color="#c8c8c8", width=1), layer="between"))
shapes.append(dict(type="line", xref="x", yref="y", x0=T("06:31:30"), x1=T("06:31:30"), y0=rng_main[0],
                   y1=2095.06, line=dict(color="#f0b030", width=2), layer="between"))

for p, t0, t1, col, w, dash in levels:
    shapes.append(dict(type="line", xref="x", yref="y", x0=T(t0), x1=T(t1), y0=p, y1=p,
                       line=dict(color=col, width=w, dash=dash), layer="between"))
for p in yellow_levels:
    shapes.append(dict(type="line", xref="x", yref="y", x0=X_RANGE[0], x1=X_RANGE[1], y0=p, y1=p,
                       line=dict(color="#ffff00", width=4), layer="above"))
for p, (col, w, dash) in zip(fib_prices, fib_styles):
    shapes.append(dict(type="line", xref="x", yref="y", x0=T(fib_start), x1=T(fib_end), y0=p, y1=p,
                       line=dict(color=col, width=w, dash=dash), layer="between"))

# circle and tooltip box
shapes.append(dict(type="circle", xref="x", yref="y", x0=T("09:02:30"), x1=T("09:18:30"), y0=2096.41, y1=2097.10,
                   line=dict(color="#6060a0", width=1), layer="above"))
shapes.append(dict(type="rect", xref="x", yref="y", x0=T("10:46:00"), x1=T("11:40:30"), y0=2096.0, y1=2097.38,
                   fillcolor="rgba(255,255,255,0.85)", line=dict(color="#777777", width=1, dash="dot"), layer="above"))

# zigzag helper lines
for lst, col, dash, w in [(zigzag_pink, "#f0a8a8", "dot", 1), (zigzag_gray, "#d0b8b8", "solid", 1),
                          (zigzag_black, "#555555", "dot", 1)]:
    for t0, p0, t1, p1 in lst:
        fig.add_trace(go.Scatter(x=[T(t0), T(t1)], y=[p0, p1], mode="lines", line=dict(color=col, width=w, dash=dash),
                                 hoverinfo="skip", xaxis="x", yaxis="y"))

# moving averages
fig.add_trace(go.Scatter(x=[T(t) for t in ma_blue_t], y=ma_blue_v, mode="lines",
                         line=dict(color="#3d8fe8", width=2.5, shape="spline"), yaxis="y"))
fig.add_trace(go.Scatter(x=[T(t) for t in ma_brown_t], y=ma_brown_v, mode="lines",
                         line=dict(color="#b08a2a", width=3, shape="spline"), yaxis="y"))


def split_up_down(ts, vs):
    ux, uy, dx, dy = [], [], [], []
    for i in range(len(vs) - 1):
        if vs[i + 1] >= vs[i]:
            ux += [ts[i], ts[i + 1], None]; uy += [vs[i], vs[i + 1], None]
        else:
            dx += [ts[i], ts[i + 1], None]; dy += [vs[i], vs[i + 1], None]
    return ux, uy, dx, dy


mt = [T(t) for t in ma_mid_t]
ux, uy, dx, dy = split_up_down(mt, ma_mid_v)
fig.add_trace(go.Scatter(x=dx, y=dy, mode="lines", line=dict(color="#909090", width=2), yaxis="y"))
fig.add_trace(go.Scatter(x=ux, y=uy, mode="lines", line=dict(color="#33dd33", width=2), yaxis="y"))

# candles
fig.add_trace(go.Candlestick(
    x=bar_times, open=opens, high=highs, low=lows, close=closes, xaxis="x", yaxis="y",
    increasing=dict(fillcolor="#90dc90", line=dict(color="#000000", width=1)),
    decreasing=dict(fillcolor="#7c7c7c", line=dict(color="#000000", width=1)),
    whiskerwidth=0, hoverinfo="skip"))

fig.add_trace(go.Scatter(x=[T(t) for t in ma_fast_t], y=ma_fast_v, mode="lines",
                         line=dict(color="#000000", width=2, shape="spline"), yaxis="y"))

for t0, p0, t1, p1 in swing_lines:
    fig.add_trace(go.Scatter(x=[T(t0), T(t1)], y=[p0, p1], mode="lines", line=dict(color="#1c1ce0", width=2), yaxis="y"))
fig.add_trace(go.Scatter(x=[T(t) for t in swing_curve_t], y=swing_curve_p, mode="lines",
                         line=dict(color="#1c1ce0", width=2, shape="spline"), yaxis="y"))

# ---------------- volume ----------------
fig.add_trace(go.Bar(x=bar_times, y=volumes, width=45000, marker=dict(color="#2323d0", line=dict(width=0)),
                     xaxis="x", yaxis="y2"))
vol_dot_t = ["06:32:00", "13:00:00"]
vol_dot_v = [27500, 30600]
fig.add_trace(go.Scatter(x=[T(t) for t in vol_dot_t], y=vol_dot_v, mode="markers",
                         marker=dict(color="#2323d0", size=6), yaxis="y2"))
shapes.append(dict(type="line", xref="x", yref="y2", x0=X_RANGE[0], x1=X_RANGE[1], y0=0, y1=0,
                   line=dict(color="#a0a0a0", width=1), layer="below"))

# ---------------- stochastics ----------------
for lv, col in zip(stoch_levels, stoch_level_colors):
    shapes.append(dict(type="line", xref="x", yref="y3", x0=X_RANGE[0], x1=X_RANGE[1], y0=lv, y1=lv,
                       line=dict(color=col, width=1), layer="below"))
st = [T(t) for t in stoch_t]
ux, uy, dx, dy = split_up_down(st, stoch_d)
fig.add_trace(go.Scatter(x=dx, y=dy, mode="lines", line=dict(color="#999999", width=2.5), yaxis="y3"))
fig.add_trace(go.Scatter(x=ux, y=uy, mode="lines", line=dict(color="#2a9a2a", width=2.5), yaxis="y3"))
fig.add_trace(go.Scatter(x=st, y=stoch_k, mode="lines", line=dict(color="#000000", width=1), yaxis="y3"))
for a, b, c, d in zip(stoch_blue_t0, stoch_blue_v0, stoch_blue_t1, stoch_blue_v1):
    fig.add_trace(go.Scatter(x=[T(a), T(c)], y=[b, d], mode="lines", line=dict(color="#2a2ae0", width=2.5), yaxis="y3"))

# ---------------- MACD ----------------
mct = [T(t) for t in macd_t]
fig.add_trace(go.Scatter(x=mct, y=[min(v, 0) for v in macd_v], mode="lines", line=dict(width=0), fill="tozeroy",
                         fillcolor="rgba(0,0,0,0)",
                         fillpattern=dict(shape="|", fgcolor="#8a8a8a", bgcolor="rgba(0,0,0,0)", size=4, solidity=0.3),
                         yaxis="y4"))
fig.add_trace(go.Scatter(x=mct, y=[max(v, 0) for v in macd_v], mode="lines", line=dict(width=0), fill="tozeroy",
                         fillcolor="rgba(0,0,0,0)",
                         fillpattern=dict(shape="|", fgcolor="#1e6e1e", bgcolor="rgba(0,0,0,0)", size=4, solidity=0.3),
                         yaxis="y4"))
shapes.append(dict(type="line", xref="x", yref="y4", x0=X_RANGE[0], x1=X_RANGE[1], y0=0, y1=0,
                   line=dict(color="#000000", width=1), layer="between"))
fig.add_trace(go.Scatter(x=mct, y=macd_v, mode="lines", line=dict(color="#8c8c8c", width=2.5, shape="spline"),
                         yaxis="y4"))
sgt = [T(t) for t in signal_t]
ux, uy, dx, dy = split_up_down(sgt, signal_v)
fig.add_trace(go.Scatter(x=dx, y=dy, mode="lines", line=dict(color="#8c8c8c", width=3), yaxis="y4"))
fig.add_trace(go.Scatter(x=ux, y=uy, mode="lines", line=dict(color="#33e033", width=3), yaxis="y4"))
for txt, t, v in macd_blue_labels:
    ann.append(dict(x=T(t), y=v, xref="x", yref="y4", text=txt, showarrow=False, xanchor="center",
                    font=dict(color="#1a1acc", size=13, family=FONT)))
for txt, t, v in macd_gray_labels:
    ann.append(dict(x=T(t), y=v, xref="x", yref="y4", text=txt, showarrow=False, xanchor="center",
                    font=dict(color="#8a8a8a", size=13, family=FONT)))

# ---------------- Buy/Sell pressure ----------------
sell_pressure = [100 - b for b in buy_pressure]
for lv in [64.5, 22.5]:
    shapes.append(dict(type="line", xref="x", yref="y5", x0=X_RANGE[0], x1=X_RANGE[1], y0=lv, y1=lv,
                       line=dict(color="#000000", width=1), layer="below"))
fig.add_trace(go.Scatter(x=bar_times, y=buy_pressure, mode="lines", line=dict(color="#2e8b2e", width=1), yaxis="y5"))
fig.add_trace(go.Scatter(x=bar_times, y=sell_pressure, mode="lines", line=dict(color="#ff2020", width=1), yaxis="y5"))
ann.append(dict(x=0.004, y=to_paper(50, dom_bsp, rng_bsp), xref="paper", yref="paper", xanchor="left",
                text="BuySellPressure(ES 06-15 (2 Min))", showarrow=False,
                font=dict(color="#404040", size=12, family=FONT)))
ann.append(dict(x=0.004, y=to_paper(26, dom_bsp, rng_bsp), xref="paper", yref="paper", xanchor="left",
                text="© 2015 NinjaTrader, LLC", showarrow=False, font=dict(color="#404040", size=11, family=FONT)))

# ---------------- text annotations (main) ----------------
for txt, t, p, col in level_labels:
    ann.append(dict(x=T(t), y=p, xref="x", yref="y", text=txt, xanchor="left", showarrow=False,
                    font=dict(color=col, size=12, family=FONT)))
for txt, p, col in fib_labels:
    ann.append(dict(x=T(fib_label_time), y=p, xref="x", yref="y", text=txt.replace("  ", "&nbsp;&nbsp;"),
                    xanchor="left", showarrow=False, font=dict(color=col, size=12, family=FONT)))
for txt, t, p in green_labels:
    ann.append(dict(x=T(t), y=p, xref="x", yref="y", text=f"<b>{txt}</b>", showarrow=False, xanchor="center",
                    font=dict(color="#2ee02e", size=14, family=FONT)))
for txt, t, p in gray_labels:
    ann.append(dict(x=T(t), y=p, xref="x", yref="y", text=f"<b>{txt}</b>", showarrow=False, xanchor="center",
                    font=dict(color="#8a8a8a", size=14, family=FONT)))

ann.append(dict(x=T("06:43:30"), y=2095.06, xref="x", yref="y", text="CHOP<br>OPEN", showarrow=False,
                xanchor="center", bgcolor="#ffffff", bordercolor="#1a1a8c", borderwidth=1, borderpad=1,
                font=dict(color="#000000", size=12, family=FONT)))
ann.append(dict(x=T("10:47:00"), y=2097.36, xref="x", yref="y", xanchor="left", yanchor="top", align="left",
                text="ES 06-15 (2 Min)<br># bars:<br>Time:<br>Y value:", showarrow=False,
                font=dict(color="#000000", size=12, family=FONT)))
ann.append(dict(x=T("11:09:30"), y=2097.36, xref="x", yref="y", xanchor="left", yanchor="top", align="left",
                text="&nbsp;<br>105<br>03:30:30<br>12.00", showarrow=False,
                font=dict(color="#000000", size=12, family=FONT)))
ann.append(dict(x=T("14:03:00"), y=2092.04, xref="x", yref="y", xanchor="right",
                text="abled since either you are disconnected or current time is outside session time or chart end date",
                showarrow=False, font=dict(color="#000000", size=20, family=FONT)))
ann.append(dict(x=0.496, y=1 - 4 / H, xref="paper", yref="paper", yanchor="top", xanchor="center",
                text="ES 06-15 (2 Min)  4/16/2015", showarrow=False,
                font=dict(color="#000000", size=14, family=FONT)))


# ---------------- right-side value tags ----------------
def add_tag(value, dom, rng, text, bg, fg, show_text=True):
    yc = to_paper(value, dom, rng)
    h = 8.5 / H
    xa, xb, xc = 934 / 1004, 943 / 1004, 999 / 1004
    shapes.append(dict(type="path", xref="paper", yref="paper",
                       path=f"M {xa},{yc} L {xb},{yc + h} L {xc},{yc + h} L {xc},{yc - h} L {xb},{yc - h} Z",
                       fillcolor=bg, line=dict(color="#000000", width=1), layer="above"))
    if show_text:
        ann.append(dict(x=(xb + xc) / 2, y=yc, xref="paper", yref="paper", text=text, showarrow=False,
                        xanchor="center", yanchor="middle", font=dict(color=fg, size=13, family=FONT)))


add_tag(2100.64, dom_main, rng_main, "2100.64", "#8a8a8a", "#000000", False)
add_tag(2100.89, dom_main, rng_main, "2100.89", "#b8860b", "#000000")
add_tag(2100.47, dom_main, rng_main, "2100.50", "#000000", "#ffffff")
add_tag(2098.89, dom_main, rng_main, "2098.89", "#3399ff", "#ffffff")
add_tag(8155, dom_vol, rng_vol, "8155", "#2323d0", "#ffffff")
add_tag(68, dom_sto, rng_sto, "64.29", "#000000", "#ffffff")
add_tag(-0.1, dom_macd, rng_macd, "", "#33e033", "#000000", False)
add_tag(0.616, dom_macd, rng_macd, "0.616", "#9a9a9a", "#000000")
add_tag(78, dom_bsp, rng_bsp, "74.19", "#2e8b2e", "#ffffff")
add_tag(28, dom_bsp, rng_bsp, "25.81", "#ff2020", "#ffffff")

# ---------------- frame lines ----------------
for ypx in [692, 738, 800, 862, 894]:
    yp = 1 - ypx / H
    shapes.append(dict(type="line", xref="paper", yref="paper", x0=0, x1=1, y0=yp, y1=yp,
                       line=dict(color="#000000", width=1.5), layer="above"))
shapes.append(dict(type="line", xref="paper", yref="paper", x0=933 / 1004, x1=933 / 1004, y0=1 - 897 / H,
                   y1=1 - 33 / H, line=dict(color="#000000", width=1.5), layer="above"))
shapes.append(dict(type="line", xref="paper", yref="paper", x0=0.001, x1=0.001, y0=1 - 895 / H,
                   y1=1 - 30 / H, line=dict(color="#000000", width=2), layer="above"))

tick_times = ["07:00", "07:30", "08:00", "08:30", "09:00", "09:30", "10:00", "10:30", "11:00", "11:30",
              "12:00", "12:30", "13:00"]
price_ticks = list(range(2092, 2106))

fig.update_layout(
    width=1004, height=949, margin=dict(l=0, r=0, t=0, b=0),
    paper_bgcolor="#ffffff", plot_bgcolor="#ffffff", showlegend=False, boxgap=0.1, boxgroupgap=0,
    shapes=shapes, annotations=ann, hovermode=False,
    xaxis=dict(type="date", domain=X_DOMAIN, range=X_RANGE, anchor="y5", rangeslider=dict(visible=False),
               tickvals=[T(t + ":00") for t in tick_times], ticktext=tick_times, ticks="outside", ticklen=5,
               tickcolor="#000000", showgrid=False, zeroline=False, showline=False,
               tickfont=dict(size=12, color="#000000", family=FONT)),
    yaxis=dict(domain=dom_main, range=rng_main, side="right", anchor="x", tickvals=price_ticks,
               ticktext=[f"{v:.2f}" for v in price_ticks], ticks="outside", ticklen=6, tickcolor="#000000",
               showgrid=True, gridcolor="#e2e2e2", gridwidth=1, zeroline=False, showline=False,
               tickfont=dict(size=13, color="#000000", family=FONT)),
    yaxis2=dict(domain=dom_vol, range=rng_vol, side="right", anchor="x", showticklabels=False, showgrid=False,
                zeroline=False, ticks=""),
    yaxis3=dict(domain=dom_sto, range=rng_sto, side="right", anchor="x", tickvals=[0], ticktext=["0"],
                ticks="outside", ticklen=6, tickcolor="#000000", showgrid=False, zeroline=False,
                tickfont=dict(size=12, color="#000000", family=FONT)),
    yaxis4=dict(domain=dom_macd, range=rng_macd, side="right", anchor="x", showticklabels=False, showgrid=False,
                zeroline=False, ticks=""),
    yaxis5=dict(domain=dom_bsp, range=rng_bsp, side="right", anchor="x", showticklabels=False, showgrid=False,
                zeroline=False, ticks=""),
)

fig.write_html("out.html", config={"displayModeBar": False},
               post_script="document.body.style.margin='0px';")
